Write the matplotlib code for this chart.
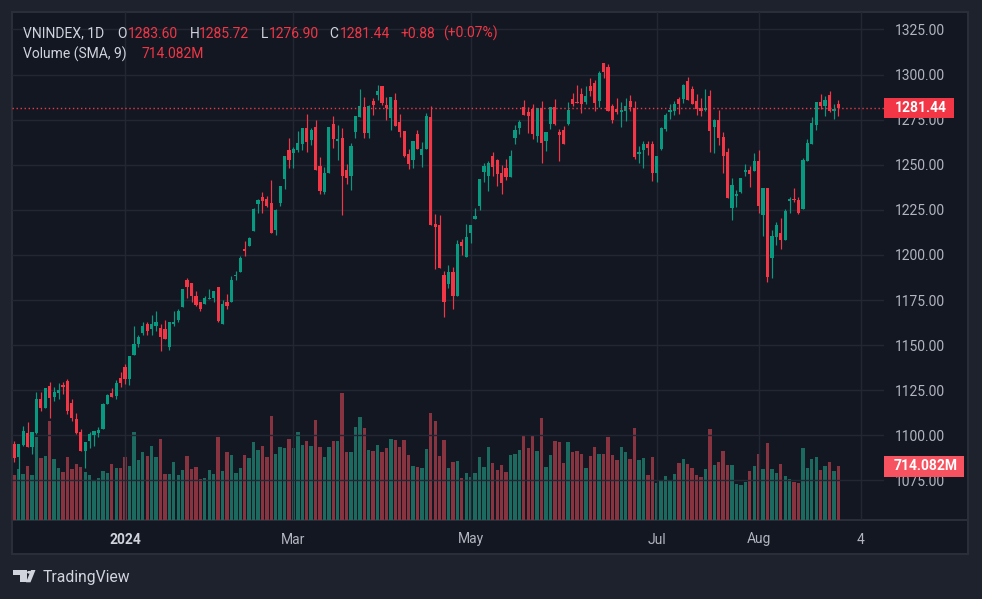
import numpy as np
import pandas as pd
import matplotlib
matplotlib.use("Agg")
import matplotlib.pyplot as plt
from matplotlib.patches import Rectangle, Polygon, Circle
from matplotlib.lines import Line2D

plt.rcParams['font.family'] = ['Roboto', 'DejaVu Sans']

# ---- dane (VNINDEX, 1D, od 27.11.2023) ----
opens = [
    1095.1, 1088.1, 1094.6, 1101.2, 1093.5, 1101.2, 1120.1, 1115.3, 1127.3, 1121.4,
    1123.6, 1127.9, 1130.1, 1117.9, 1109.0, 1101.8, 1091.3, 1096.9, 1100.1, 1101.4,
    1103.5, 1117.3, 1123.4, 1121.8, 1131.7, 1137.8, 1131.2, 1144.6, 1150.7, 1157.0,
    1161.5, 1158.7, 1160.9, 1159.3, 1158.7, 1149.2, 1161.5, 1164.2, 1170.9, 1185.9,
    1184.2, 1177.5, 1173.7, 1173.1, 1175.5, 1175.9, 1182.0, 1162.0, 1174.2, 1174.2,
    1188.3, 1190.3, 1203.1, 1204.8, 1213.1, 1228.1, 1231.9, 1230.8, 1228.6, 1213.6,
    1228.6, 1241.9, 1258.0, 1256.3, 1258.0, 1261.3, 1270.2, 1263.5, 1270.7, 1249.1,
    1234.7, 1245.2, 1272.4, 1263.0, 1264.6, 1246.9, 1243.6, 1268.0, 1276.3, 1281.8,
    1267.4, 1285.2, 1288.5, 1293.5, 1283.0, 1275.7, 1285.7, 1273.5, 1268.5, 1255.8,
    1252.4, 1266.9, 1255.2, 1258.5, 1276.3, 1217.0, 1216.4, 1188.7, 1183.7, 1190.3,
    1177.0, 1207.0, 1199.1, 1212.0, 1219.7, 1226.9, 1245.8, 1243.6, 1254.7, 1252.4,
    1245.2, 1248.0, 1243.0, 1264.6, 1270.2, 1281.8, 1279.1, 1280.7, 1265.8, 1281.3,
    1263.0, 1272.4, 1281.8, 1268.0, 1269.1, 1272.4, 1286.3, 1284.6, 1289.0, 1284.6,
    1293.5, 1295.1, 1285.2, 1306.2, 1304.0, 1282.4, 1280.7, 1279.1, 1279.6, 1285.2,
    1281.3, 1255.8, 1258.0, 1261.3, 1261.3, 1245.2, 1258.5, 1269.6, 1279.1, 1279.6,
    1286.3, 1286.3, 1296.3, 1291.8, 1285.2, 1281.3, 1280.2, 1287.9, 1270.7, 1274.6,
    1265.2, 1256.9, 1225.8, 1232.5, 1234.7, 1245.8, 1246.9, 1246.3, 1251.9, 1222.0,
    1236.9, 1198.1, 1209.8, 1212.0, 1208.1, 1229.7, 1230.8, 1230.3, 1225.3, 1251.9,
    1261.3, 1271.9, 1284.6, 1282.4, 1288.5, 1279.6, 1283.6,
]
highs = [
    1096.8, 1095.5, 1105.1, 1107.3, 1102.0, 1124.0, 1124.0, 1126.2, 1129.5, 1127.0,
    1129.0, 1129.5, 1131.2, 1119.9, 1112.3, 1103.5, 1096.3, 1101.8, 1102.4, 1104.6,
    1117.9, 1122.9, 1126.2, 1130.6, 1135.1, 1139.5, 1144.0, 1160.4, 1155.9, 1162.6,
    1163.1, 1166.5, 1169.2, 1162.0, 1163.7, 1163.1, 1168.7, 1169.8, 1181.4, 1187.0,
    1184.7, 1180.3, 1174.2, 1177.0, 1180.9, 1180.3, 1182.5, 1174.8, 1178.6, 1188.6,
    1190.9, 1199.7, 1208.0, 1210.1, 1225.8, 1230.8, 1234.7, 1232.5, 1241.4, 1225.3,
    1238.0, 1254.7, 1264.6, 1259.7, 1268.5, 1270.2, 1278.0, 1270.2, 1274.6, 1254.1,
    1248.6, 1270.7, 1276.8, 1271.9, 1270.2, 1250.2, 1261.9, 1276.8, 1291.8, 1287.4,
    1283.0, 1286.8, 1294.0, 1293.5, 1287.4, 1287.4, 1289.6, 1278.0, 1268.5, 1258.5,
    1263.0, 1269.1, 1262.4, 1278.5, 1282.4, 1222.5, 1221.9, 1191.4, 1194.2, 1193.1,
    1208.1, 1208.6, 1217.0, 1216.4, 1225.8, 1241.9, 1250.8, 1251.9, 1256.9, 1253.0,
    1249.7, 1253.0, 1258.0, 1271.9, 1274.6, 1285.7, 1281.8, 1283.5, 1281.3, 1285.2,
    1268.0, 1281.8, 1286.3, 1269.6, 1271.3, 1284.6, 1289.6, 1294.0, 1292.4, 1293.5,
    1297.9, 1296.8, 1301.8, 1306.2, 1305.7, 1283.5, 1286.8, 1284.6, 1286.8, 1288.5,
    1285.2, 1260.2, 1263.0, 1263.0, 1263.0, 1254.7, 1270.7, 1278.5, 1283.5, 1285.2,
    1287.4, 1294.6, 1298.5, 1293.5, 1289.0, 1286.8, 1291.8, 1291.3, 1275.2, 1280.2,
    1268.0, 1259.1, 1242.5, 1235.8, 1242.5, 1250.2, 1249.1, 1256.3, 1258.0, 1236.9,
    1236.9, 1213.6, 1218.1, 1220.3, 1225.3, 1231.9, 1236.9, 1231.9, 1253.6, 1264.1,
    1276.3, 1284.6, 1289.0, 1287.9, 1290.7, 1283.5, 1285.72,
]
lows = [
    1085.4, 1076.1, 1094.0, 1093.5, 1089.8, 1101.0, 1113.4, 1115.3, 1109.8, 1119.2,
    1120.3, 1123.0, 1112.0, 1108.0, 1101.0, 1091.5, 1082.0, 1093.0, 1094.0, 1099.3,
    1103.5, 1117.3, 1121.2, 1120.1, 1126.8, 1128.4, 1127.9, 1144.3, 1149.1, 1155.9,
    1155.4, 1155.9, 1157.8, 1146.9, 1153.7, 1147.6, 1160.4, 1162.6, 1170.9, 1175.9,
    1174.2, 1172.0, 1168.7, 1173.1, 1175.5, 1174.2, 1162.8, 1162.0, 1169.8, 1173.7,
    1185.9, 1190.3, 1199.2, 1204.8, 1213.1, 1223.1, 1223.1, 1226.4, 1212.2, 1210.9,
    1226.9, 1236.4, 1248.0, 1248.0, 1256.9, 1258.0, 1256.9, 1260.8, 1246.9, 1233.6,
    1233.6, 1245.2, 1259.1, 1252.4, 1222.0, 1239.1, 1235.8, 1264.6, 1276.3, 1264.6,
    1264.6, 1277.4, 1285.7, 1283.0, 1274.6, 1269.1, 1271.3, 1265.2, 1254.1, 1247.5,
    1248.0, 1258.5, 1248.6, 1258.5, 1216.4, 1192.0, 1192.6, 1165.9, 1181.5, 1169.8,
    1177.0, 1200.2, 1199.1, 1206.4, 1219.7, 1224.7, 1240.2, 1235.3, 1243.6, 1238.0,
    1233.6, 1241.4, 1243.0, 1261.3, 1266.9, 1277.4, 1267.4, 1264.1, 1262.4, 1250.8,
    1257.4, 1269.6, 1271.9, 1251.9, 1261.3, 1271.9, 1282.4, 1284.1, 1278.5, 1283.5,
    1287.9, 1279.6, 1281.8, 1297.9, 1279.6, 1273.0, 1278.0, 1270.7, 1274.1, 1279.6,
    1253.0, 1250.8, 1248.0, 1255.2, 1240.8, 1240.2, 1258.0, 1268.5, 1275.2, 1277.4,
    1278.0, 1284.1, 1285.7, 1283.5, 1277.4, 1276.8, 1279.6, 1256.9, 1256.3, 1260.8,
    1245.2, 1231.4, 1219.2, 1226.4, 1234.2, 1243.6, 1237.5, 1246.3, 1223.1, 1210.3,
    1184.8, 1187.0, 1205.3, 1203.1, 1208.1, 1223.1, 1229.2, 1222.5, 1225.3, 1251.9,
    1261.3, 1269.1, 1280.7, 1276.8, 1279.1, 1275.2, 1276.9,
]
closes = [
    1087.5, 1095.1, 1102.2, 1093.7, 1101.8, 1120.1, 1115.3, 1126.2, 1120.8, 1124.0,
    1125.1, 1126.8, 1113.6, 1109.7, 1101.2, 1091.5, 1096.3, 1100.8, 1102.3, 1102.9,
    1117.3, 1122.3, 1121.2, 1129.0, 1129.0, 1131.2, 1144.0, 1150.7, 1154.6, 1160.4,
    1158.1, 1161.5, 1162.6, 1154.5, 1153.7, 1163.1, 1162.6, 1169.2, 1181.4, 1182.5,
    1177.0, 1172.5, 1169.8, 1175.9, 1175.9, 1179.8, 1163.3, 1173.1, 1172.0, 1186.4,
    1188.6, 1198.6, 1202.0, 1209.6, 1225.3, 1230.3, 1229.7, 1226.9, 1212.2, 1224.7,
    1238.0, 1254.7, 1252.4, 1258.5, 1261.9, 1270.2, 1262.4, 1269.1, 1246.9, 1235.3,
    1245.2, 1270.7, 1264.1, 1264.1, 1243.6, 1242.5, 1260.2, 1276.8, 1282.4, 1267.4,
    1282.4, 1283.0, 1290.7, 1284.1, 1281.3, 1287.4, 1271.3, 1268.0, 1254.7, 1250.2,
    1263.0, 1258.5, 1258.5, 1276.8, 1216.4, 1215.5, 1192.6, 1174.2, 1190.3, 1177.0,
    1205.9, 1204.8, 1209.8, 1216.4, 1221.4, 1241.9, 1249.1, 1250.8, 1248.6, 1244.7,
    1239.7, 1243.0, 1254.7, 1269.1, 1273.5, 1277.4, 1276.8, 1266.9, 1281.3, 1261.9,
    1268.0, 1281.8, 1272.4, 1266.3, 1261.3, 1280.2, 1283.5, 1284.1, 1283.5, 1287.9,
    1290.7, 1284.1, 1300.7, 1301.2, 1279.6, 1274.6, 1279.1, 1280.2, 1282.4, 1281.8,
    1254.1, 1256.9, 1261.3, 1259.1, 1245.2, 1254.7, 1270.2, 1277.4, 1280.2, 1283.5,
    1283.5, 1294.0, 1285.7, 1283.5, 1280.7, 1279.6, 1281.3, 1268.5, 1274.6, 1264.6,
    1254.7, 1231.4, 1238.6, 1233.6, 1242.5, 1246.9, 1244.7, 1251.9, 1226.9, 1236.9,
    1187.6, 1210.3, 1216.4, 1208.1, 1224.2, 1230.8, 1230.3, 1223.1, 1252.4, 1261.9,
    1273.0, 1284.6, 1282.4, 1285.7, 1279.6, 1280.7, 1281.44,
]
# wolumen w milionach
volumes = [
    599, 678, 612, 718, 599, 1104, 825, 851, 1317, 811,
    692, 638, 838, 678, 745, 705, 638, 599, 519, 559,
    652, 625, 745, 692, 692, 838, 718, 1170, 798, 904,
    851, 984, 838, 1077, 612, 612, 771, 599, 665, 851,
    678, 705, 545, 559, 665, 612, 1104, 652, 904, 865,
    625, 692, 865, 825, 1037, 931, 984, 838, 1383, 878,
    971, 958, 1077, 958, 1170, 998, 1051, 984, 1330, 971,
    838, 971, 1051, 1051, 1689, 904, 904, 1237, 1370, 1224,
    931, 918, 998, 904, 958, 1077, 1064, 971, 1064, 865,
    718, 705, 692, 944, 1423, 1317, 851, 1064, 692, 771,
    785, 559, 625, 572, 625, 838, 705, 971, 758, 665,
    732, 638, 865, 878, 931, 1131, 958, 1131, 918, 1357,
    705, 865, 1051, 1037, 758, 1037, 904, 918, 878, 692,
    851, 971, 878, 878, 1104, 865, 798, 971, 904, 811,
    1224, 798, 825, 599, 838, 492, 532, 585, 532, 612,
    758, 811, 745, 692, 599, 572, 678, 1210, 732, 771,
    918, 732, 732, 479, 466, 505, 652, 718, 878, 678,
    1024, 678, 625, 745, 585, 545, 505, 492, 958, 692,
    811, 838, 665, 718, 771, 652, 718,
]
vol_sma = 714.082
last_close = 1281.44
price_ticks = [1075, 1100, 1125, 1150, 1175, 1200, 1225, 1250, 1275, 1300, 1325]
time_ticks = ['2024-01-02', '2024-03-01', '2024-05-02', '2024-07-01', '2024-08-01', '2024-09-04']
time_labels = ['2024', 'Mar', 'May', 'Jul', 'Aug', '4']
holidays = ['2024-01-01', '2024-02-08', '2024-02-09', '2024-02-12', '2024-02-13',
            '2024-02-14', '2024-04-18', '2024-04-29', '2024-04-30', '2024-05-01',
            '2024-09-02']

# kolory
BG_OUT = '#1e222d'
PANE = '#131722'
BORDER = '#2a2e39'
GRID = '#232733'
UP = '#089981'
DOWN = '#f23645'
UP_VOL = '#1c6a5f'
DOWN_VOL = '#873440'
TXT = '#b2b5be'
TXT2 = '#d1d4dc'

# kalendarz sesji
days = pd.bdate_range('2023-11-27', '2024-09-30')
days = days[~days.isin(pd.to_datetime(holidays))]
tick_idx = [days.get_loc(pd.Timestamp(d)) for d in time_ticks]

o = np.array(opens)
h = np.array(highs)
l = np.array(lows)
c = np.array(closes)
v = np.array(volumes)
n = len(o)
idx = np.arange(n)
up = c >= o
cols = np.where(up, UP, DOWN)
vcols = np.where(up, UP_VOL, DOWN_VOL)

W, H = 982, 599


def fx(px):
    return px / W


def fy(py):
    return 1 - py / H


fig = plt.figure(figsize=(W / 100, H / 100), dpi=100, facecolor=BG_OUT)

# ramka wykresu
fig.patches.append(Rectangle((fx(12), fy(554)), fx(968) - fx(12), fy(12) - fy(554),
                             transform=fig.transFigure, facecolor=PANE,
                             edgecolor=BORDER, lw=1.5, zorder=-2))
fig.lines.append(Line2D([fx(12), fx(968)], [fy(520), fy(520)], transform=fig.transFigure,
                        color=BORDER, lw=1.5, zorder=-1))

rect = [fx(12), fy(520), fx(884) - fx(12), fy(12) - fy(520)]
ax_v = fig.add_axes(rect, zorder=1)
ax = fig.add_axes(rect, zorder=2)
for a in (ax, ax_v):
    a.set_facecolor('none')
    for s in a.spines.values():
        s.set_visible(False)
    a.set_xlim(-0.52, 196.3)

# wolumen
ax_v.bar(idx, v, width=0.76, color=vcols, linewidth=0)
ax_v.set_ylim(0, vol_sma * 508 / 53.7)
ax_v.set_xticks([])
ax_v.set_yticks([])

# swiece
ax.vlines(idx, l, h, colors=cols, linewidth=0.85, zorder=3)
body_bot = np.minimum(o, c)
body_h = np.maximum(np.abs(c - o), 0.55)
ax.bar(idx, body_h, bottom=body_bot, width=0.72, color=cols, linewidth=0, zorder=4)
ax.set_ylim(1053.1, 1334.7)

ax.axhline(last_close, color=DOWN, lw=1, ls=(0, (1, 1.9)), zorder=5)

ax.set_yticks(price_ticks)
ax.set_yticklabels(['%.2f' % p for p in price_ticks])
ax.yaxis.tick_right()
ax.tick_params(axis='y', length=0, pad=8, labelcolor=TXT, labelsize=10)
ax.set_xticks(tick_idx)
ax.set_xticklabels(time_labels)
ax.tick_params(axis='x', length=0, pad=9, labelcolor=TXT, labelsize=10)
ax.get_xticklabels()[0].set_fontweight('bold')
ax.get_xticklabels()[0].set_color(TXT2)
ax.grid(color=GRID, linewidth=1)
ax.set_axisbelow(True)


def to_fig_y(axes, val):
    disp = axes.transData.transform((0, val))
    return fig.transFigure.inverted().transform(disp)[1]


# etykiety ceny i wolumenu
yc = to_fig_y(ax, last_close)
fig.patches.append(Rectangle((fx(884), yc - 10 / H), fx(954) - fx(884), 20 / H,
                             transform=fig.transFigure, facecolor=DOWN, lw=0, zorder=5))
fig.text(fx(895), yc, '%.2f' % last_close, color='white', fontsize=10,
         fontweight='bold', va='center', ha='left', zorder=6)
yv = to_fig_y(ax_v, vol_sma)
fig.patches.append(Rectangle((fx(884), yv - 10.3 / H), fx(964) - fx(884), 20.6 / H,
                             transform=fig.transFigure, facecolor='#f7525f', lw=0, zorder=5))
fig.text(fx(894), yv, '%.3fM' % vol_sma, color='white', fontsize=10,
         fontweight='bold', va='center', ha='left', zorder=6)

# naglowek
head = [
    ('VNINDEX, 1D', 23.3, TXT2), ('O', 117.3, TXT2), ('1283.60', 128.3, DOWN),
    ('H', 190, TXT2), ('1285.72', 199.3, DOWN), ('L', 260.7, TXT2),
    ('1276.90', 268.7, DOWN), ('C', 329.3, TXT2), ('1281.44', 340, DOWN),
    ('+0.88', 400.7, DOWN), ('(+0.07%)', 442.7, DOWN),
]
for s, xp, col in head:
    fig.text(fx(xp), fy(37.7), s, color=col, fontsize=10, va='baseline', ha='left')
fig.text(fx(23.3), fy(58.5), 'Volume (SMA, 9)', color=TXT2, fontsize=10, va='baseline')
fig.text(fx(141.7), fy(58.5), '%.3fM' % vol_sma, color=DOWN, fontsize=10, va='baseline')

# logo TradingView
logo_col = '#d1d4dc'
fig.patches.append(Polygon([(fx(12.7), fy(570)), (fx(26.5), fy(570)), (fx(26.5), fy(582.3)),
                            (fx(19.5), fy(582.3)), (fx(19.5), fy(574.6)), (fx(12.7), fy(574.6))],
                           closed=True, transform=fig.transFigure, facecolor=logo_col, lw=0))
fig.patches.append(Circle((fx(29.3), fy(572.3)), 2.3 / W, transform=fig.transFigure,
                          facecolor=logo_col, lw=0))
fig.patches.append(Polygon([(fx(31.0), fy(570)), (fx(35.5), fy(570)), (fx(30.5), fy(582.3)),
                            (fx(26.0), fy(582.3))],
                           closed=True, transform=fig.transFigure, facecolor=logo_col, lw=0))
fig.text(fx(42.7), fy(582.3), 'TradingView', color=logo_col, fontsize=11.3, va='baseline')

fig.savefig('out.png', dpi=100, facecolor=BG_OUT)
